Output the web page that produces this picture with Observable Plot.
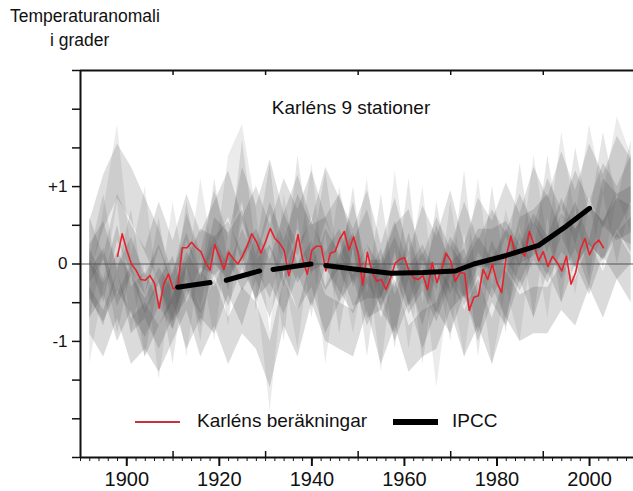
<!DOCTYPE html>
<html><head><meta charset="utf-8">
<script src="https://cdn.jsdelivr.net/npm/d3@7"></script>
<script src="https://cdn.jsdelivr.net/npm/@observablehq/plot@0.6"></script>
<style>
body{margin:0;background:#fff;font-family:"Liberation Sans",Arial,sans-serif;}
#wrap{position:relative;width:633px;height:491px;overflow:hidden;background:#fff;}
.lbl{position:absolute;white-space:nowrap;color:#111;line-height:1;}
.bar{position:absolute;}
</style></head><body><div id="wrap"></div>
<script>
// Karlén's calculation (annual anomaly, °C)
const redYears = d3.range(1898, 2004);
const redValues = [
  0.10, 0.39,
  0.18, 0.00, -0.08, -0.20, -0.21, -0.15, -0.25, -0.57, -0.26, -0.13,
  -0.32, -0.30, 0.21, 0.21, 0.28, 0.21, 0.16, 0.02, -0.08, 0.25,
  0.10, -0.07, 0.15, 0.07, 0.00, 0.10, 0.23, 0.39, 0.29, 0.14,
  0.29, 0.46, 0.33, 0.27, 0.18, -0.15, 0.06, 0.38, 0.06, -0.13,
  0.18, 0.23, 0.23, -0.09, 0.14, 0.16, 0.32, 0.42, 0.18, 0.35,
  0.14, -0.27, 0.15, -0.10, -0.22, -0.20, -0.33, -0.18, 0.01, 0.06,
  0.08, -0.09, -0.18, -0.20, -0.15, -0.33, 0.02, -0.24, -0.07, 0.14,
  0.04, -0.22, -0.11, -0.12, -0.60, -0.43, -0.41, -0.07, -0.20, 0.00,
  -0.24, -0.37, 0.10, 0.36, 0.12, 0.18, 0.10, 0.42, 0.25, 0.04,
  0.16, -0.03, 0.10, 0.02, -0.09, 0.10, -0.26, -0.11, 0.18, 0.33,
  0.12, 0.25, 0.31, 0.21
];

// IPCC curve (dashed segments early, then solid)
const ipccYears   = [1911, 1918, 1921.5, 1928.7, 1931.6, 1939.8, 1943, 1950, 1957, 1964, 1971, 1975, 1982, 1989, 1995, 2000];
const ipccValues  = [-0.30, -0.24, -0.21, -0.09, -0.07, 0.00, -0.02, -0.07, -0.12, -0.11, -0.09, 0.00, 0.11, 0.24, 0.49, 0.72];
const ipccSegment = [1, 1, 2, 2, 3, 3, 4, 4, 4, 4, 4, 4, 4, 4, 4, 4];

// Nine station bands (centre values every 3 years and half-width)
const stationYears = [1892,1895,1898,1901,1904,1907,1910,1913,1916,1919,1922,1925,1928,1931,1934,1937,1940,1943,1946,1949,
                      1952,1955,1958,1961,1964,1967,1970,1973,1976,1979,1982,1985,1988,1991,1994,1997,2000,2003,2006,2009];
const station1 = [-0.1,-0.5,0.2,-0.6,-0.4,-0.8,-0.4,0.1,-0.5,0.3,0.1,0.4,-0.2,0.5,0.0,0.6,0.2,0.3,-0.2,0.5,-0.4,-0.3,-0.6,0.1,-0.5,0.2,-0.3,-0.1,-0.6,0.0,-0.4,0.3,0.4,0.6,0.1,0.5,0.0,0.8,0.6,0.7];
const station2 = [0.2,0.8,1.2,0.9,0.5,0.1,-0.5,0.3,-0.2,0.6,0.0,0.9,0.4,1.0,0.3,0.8,0.2,0.9,0.5,0.1,0.6,-0.1,0.5,-0.2,0.4,0.0,0.6,-0.1,0.5,0.2,0.7,0.3,0.9,0.5,1.1,0.6,1.2,0.8,1.3,1.0];
const station3 = [-0.6,-0.9,-0.4,-1.0,-0.8,-1.1,-0.7,-0.3,-0.9,-0.5,-1.0,-0.6,-0.8,-1.3,-0.5,-0.9,-0.2,-0.7,-0.8,-0.9,-0.3,-1.0,-0.5,-1.1,-0.9,-0.8,-0.3,-0.9,-0.5,-1.0,-0.4,-0.7,-0.6,-0.6,-0.3,-0.5,0.0,-0.4,0.1,-0.2];
const station4 = [0.0,0.3,-0.3,0.1,-0.4,0.0,-0.5,-0.2,0.2,0.1,0.3,-0.1,0.2,-0.2,0.4,0.0,0.3,-0.1,0.2,-0.3,-0.2,-0.2,0.3,-0.3,0.0,-0.4,0.1,-0.2,0.2,0.2,0.3,0.0,0.4,0.1,0.6,0.2,0.5,0.3,0.7,0.4];
const station5 = [-0.3,0.5,-0.5,0.3,-0.8,0.2,-0.9,0.4,-0.6,0.7,-0.4,1.2,-0.2,0.9,-0.6,1.0,-0.3,0.8,-0.5,0.6,-0.8,0.5,-0.7,0.7,-0.9,0.4,-0.6,0.8,-0.8,0.6,-0.5,0.9,-0.3,1.0,-0.1,1.1,0.2,1.3,0.4,1.2];
const station6 = [-0.4,-0.1,-0.7,-0.3,-0.9,-0.5,-0.2,-0.8,-0.4,-0.6,-0.1,-0.5,0.1,-0.4,0.2,-0.3,0.0,-0.6,-0.2,0.1,-0.5,-0.1,-0.7,-0.2,-0.8,-0.3,-0.6,-0.1,-0.7,-0.2,-0.5,0.1,-0.4,0.2,-0.2,0.3,-0.1,0.4,0.1,0.3];
const station7 = [0.3,-0.2,0.6,0.2,-0.1,0.5,0.0,0.6,0.1,0.5,0.9,0.3,0.7,0.2,0.8,0.4,0.9,0.3,0.6,0.0,0.4,-0.3,0.2,0.4,-0.2,0.3,-0.1,0.5,0.0,0.4,0.1,0.6,0.2,0.8,0.4,0.9,0.5,1.0,0.7,1.1];
const station8 = [-0.8,0.2,1.3,-0.4,0.5,-1.0,0.3,-0.7,0.6,-0.5,0.9,1.3,0.2,-1.4,0.4,-0.6,0.8,-0.8,0.5,-0.4,0.6,-0.9,0.7,-0.6,0.5,-1.1,0.3,-0.7,0.6,-0.8,0.2,-0.5,0.9,-0.2,1.2,0.1,1.3,0.4,1.4,0.9];
const station9 = [-0.2,-0.5,-0.1,-0.4,-0.7,-0.3,-0.6,-0.1,-0.4,0.1,-0.3,0.2,-0.2,0.0,-0.4,0.1,-0.3,0.2,-0.1,-0.4,0.0,-0.3,0.1,-0.4,-0.1,-0.5,0.0,-0.3,0.1,-0.2,0.2,-0.1,0.3,0.0,0.4,0.2,0.5,0.3,0.6,0.5];
const stations = [station1, station2, station3, station4, station5, station6, station7, station8, station9];
const stationHalfWidth = [0.3, 0.35, 0.3, 0.25, 0.4, 0.3, 0.3, 0.5, 0.25];
const stationOpacity   = [0.2, 0.18, 0.2, 0.2, 0.14, 0.2, 0.18, 0.11, 0.2];

// Axis ticks and labels
const majorYears = [1900, 1920, 1940, 1960, 1980, 2000];
const oddDecades = [1910, 1930, 1950, 1970, 1990];
const minorYears = d3.range(1890, 2010, 2);
const yTicks = [-2.5, -2, -1.5, -1, -0.5, 0, 0.5, 1, 1.5, 2, 2.5];
const yLabelValues = [-1, 0, 1];
const yLabelTexts = ["-1", "0", "+1"];

const title = "Karléns 9 stationer";
const yTitle1 = "Temperaturanomali";
const yTitle2 = "i grader";
const legendRed = "Karléns beräkningar";
const legendBlack = "IPCC";

const red = redYears.map((year, i) => ({year, value: redValues[i]}));
const ipcc = ipccYears.map((year, i) => ({year, value: ipccValues[i], seg: ipccSegment[i]}));
const bandMarks = stations.map((vals, s) => {
  const rows = stationYears.map((year, i) => ({year, lo: vals[i] - stationHalfWidth[s], hi: vals[i] + stationHalfWidth[s]}));
  return Plot.areaY(rows, {x: "year", y1: "lo", y2: "hi", fill: "#4a4a4a", fillOpacity: stationOpacity[s]});
});

const frameH = 491 - 70 - 34;
const labelMap = new Map(yLabelValues.map((v, i) => [v, yLabelTexts[i]]));

const chart = Plot.plot({
  width: 633, height: 491,
  marginTop: 70, marginBottom: 34, marginLeft: 80, marginRight: 0,
  style: {fontFamily: '"Liberation Sans", Arial, sans-serif', fontSize: "17px", background: "white", color: "#111"},
  x: {domain: [1890, 2009.5]},
  y: {domain: [-2.5, 2.5]},
  marks: [
    ...bandMarks,
    Plot.ruleY([0], {stroke: "#555", strokeWidth: 1}),
    Plot.line(red, {x: "year", y: "value", stroke: "#e8222c", strokeWidth: 1.6}),
    Plot.line(ipcc, {x: "year", y: "value", z: "seg", stroke: "black", strokeWidth: 5, strokeLinecap: "round"}),
    Plot.ruleY([2.5], {stroke: "#111", strokeWidth: 2}),
    Plot.ruleY([-2.5], {stroke: "#111", strokeWidth: 2}),
    Plot.ruleX([1890], {stroke: "#111", strokeWidth: 2}),
    Plot.axisY({ticks: yTicks, tickSize: 8, tickPadding: 5, tickFormat: d => labelMap.get(d) ?? "", fontSize: 17, strokeWidth: 1.5, label: null}),
    Plot.axisX({ticks: majorYears, tickSize: 9, tickPadding: 5, tickFormat: d => String(d), fontSize: 20, strokeWidth: 2, label: null}),
    Plot.axisX({ticks: minorYears, tickSize: 4, tickFormat: () => "", strokeWidth: 1, label: null}),
    Plot.tickX(oddDecades, {x: d => d, insetTop: frameH - 6, strokeWidth: 1.5, stroke: "#111"}),
    Plot.tickX(oddDecades, {x: d => d, insetBottom: frameH - 5, strokeWidth: 1.5, stroke: "#111"}),
    Plot.text([title], {frameAnchor: "top", dx: -6, dy: 30, fontSize: 19, fill: "#111"})
  ]
});

const wrap = document.getElementById("wrap");
wrap.appendChild(chart);

function addLabel(text, left, top, size) {
  const d = document.createElement("div");
  d.className = "lbl";
  d.textContent = text;
  d.style.left = left + "px"; d.style.top = top + "px"; d.style.fontSize = size + "px";
  wrap.appendChild(d);
}
function addBar(left, top, w, h, color) {
  const d = document.createElement("div");
  d.className = "bar";
  Object.assign(d.style, {left: left + "px", top: top + "px", width: w + "px", height: h + "px", background: color});
  wrap.appendChild(d);
}
addLabel(yTitle1, 10, 8, 17.5);
addLabel(yTitle2, 50, 32, 17.5);
addBar(135, 421, 45, 1.6, "#c8323c");
addLabel(legendRed, 197, 411, 19);
addBar(393, 419, 45, 6, "#000");
addLabel(legendBlack, 452, 411, 19);
</script>
</body></html>
